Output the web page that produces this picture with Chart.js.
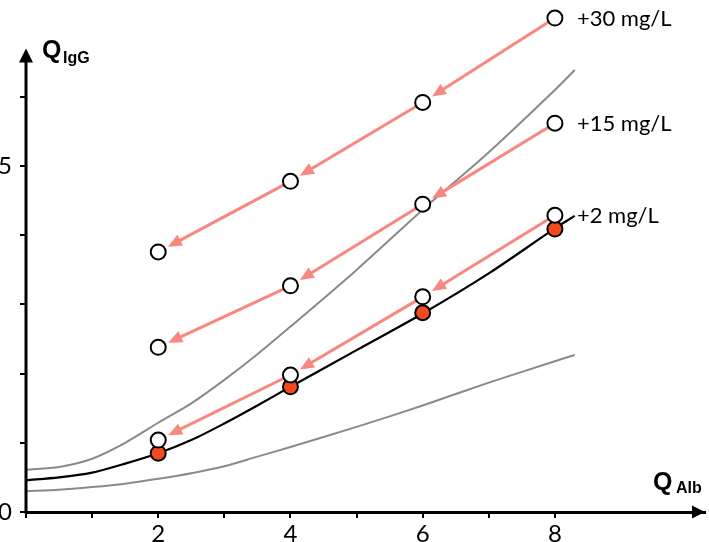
<!DOCTYPE html>
<html lang="en">
<head>
<meta charset="UTF-8">
<title>QIgG vs QAlb</title>
<script src="https://cdn.jsdelivr.net/npm/chart.js"></script>
<style>
  html, body { margin: 0; padding: 0; background: #fff; overflow: hidden; }
  #wrap { width: 709px; height: 542px; }
</style>
</head>
<body>
<div id="wrap"><canvas id="chart"></canvas></div>
<script>
// measured points (x = QAlb)
const doseX = [2, 4, 6, 8];
const plus30 = [3.76, 4.78, 5.92, 7.14];
const plus15 = [2.38, 3.27, 4.45, 5.62];
const plus2 = [1.04, 1.98, 3.11, 4.29];
const baseline = [0.85, 1.81, 2.88, 4.09];
const seriesLabels = ['+30 mg/L', '+15 mg/L', '+2 mg/L'];

// reference curves
const curveX = [0, 0.5, 1, 1.5, 2, 2.5, 3, 3.5, 4, 5, 6, 7, 8, 8.3];
const upperCurve = [0.61, 0.65, 0.77, 1.0, 1.29, 1.57, 1.91, 2.28, 2.68, 3.5, 4.37, 5.2, 6.1, 6.39];
const meanCurve = [0.46, 0.5, 0.57, 0.7, 0.85, 1.04, 1.28, 1.54, 1.81, 2.34, 2.87, 3.45, 4.1, 4.28];
const lowerCurve = [0.30, 0.32, 0.36, 0.41, 0.48, 0.56, 0.66, 0.8, 0.94, 1.23, 1.54, 1.87, 2.18, 2.27];

const xTicks = [0, 1, 2, 3, 4, 5, 6, 7, 8];
const yTicks = [0, 1, 2, 3, 4, 5, 6];
const xTickLabels = [2, 4, 6, 8];
const yTickLabels = [0, 5];
const yAxisEnd = 6.7;

const toPts = (xs, ys) => xs.map((x, i) => ({ x: x, y: ys[i] }));

const pink = '#f8877f';
const fontFam = 'Lato, "Open Sans", sans-serif';

function circles(ys) {
  return {
    data: toPts(doseX, ys),
    showLine: false,
    pointRadius: 7.5,
    pointBorderWidth: 2,
    pointBorderColor: '#000',
    pointBackgroundColor: '#fff',
    clip: false
  };
}

function curve(ys, color, width) {
  return {
    type: 'line',
    data: toPts(curveX, ys),
    borderColor: color,
    borderWidth: width,
    pointRadius: 0,
    tension: 0.3,
    fill: false,
    clip: false
  };
}

function arrow(ctx, x1, y1, x2, y2) {
  const len = Math.hypot(x2 - x1, y2 - y1);
  const dx = (x2 - x1) / len, dy = (y2 - y1) / len;
  const tx = x2 - dx * 11, ty = y2 - dy * 11;
  const headLen = 14, half = 6;
  const bx = tx - dx * headLen, by = ty - dy * headLen;
  ctx.beginPath();
  ctx.moveTo(x1, y1);
  ctx.lineTo(bx + dx * 2, by + dy * 2);
  ctx.stroke();
  ctx.beginPath();
  ctx.moveTo(tx, ty);
  ctx.lineTo(bx - dy * half, by + dx * half);
  ctx.lineTo(bx + dy * half, by - dx * half);
  ctx.closePath();
  ctx.fill();
}

const extras = {
  id: 'extras',
  beforeDatasetDraw(chart, args) {
    if (args.index !== 3) return;
    const { ctx, scales: { x, y } } = chart;
    ctx.save();
    ctx.strokeStyle = pink;
    ctx.fillStyle = pink;
    ctx.lineWidth = 3;
    [plus30, plus15, plus2].forEach(s => {
      for (let i = s.length - 1; i > 0; i--) {
        arrow(ctx,
          x.getPixelForValue(doseX[i]), y.getPixelForValue(s[i]),
          x.getPixelForValue(doseX[i - 1]), y.getPixelForValue(s[i - 1]));
      }
    });
    ctx.restore();
  },
  afterDraw(chart) {
    const { ctx, chartArea: a, scales: { x, y } } = chart;
    const top = y.getPixelForValue(yAxisEnd);
    ctx.save();
    // y axis line (stops below the top of the plot area)
    ctx.strokeStyle = '#000';
    ctx.lineWidth = 3;
    ctx.beginPath();
    ctx.moveTo(a.left, a.bottom + 1.5);
    ctx.lineTo(a.left, top + 10);
    ctx.stroke();
    // axis arrowheads
    ctx.fillStyle = '#000';
    ctx.beginPath();
    ctx.moveTo(a.right, a.bottom);
    ctx.lineTo(a.right - 13, a.bottom - 6.5);
    ctx.lineTo(a.right - 13, a.bottom + 6.5);
    ctx.closePath();
    ctx.fill();
    ctx.beginPath();
    ctx.moveTo(a.left, top);
    ctx.lineTo(a.left - 7, top + 14);
    ctx.lineTo(a.left + 7, top + 14);
    ctx.closePath();
    ctx.fill();

    // axis titles
    ctx.textBaseline = 'alphabetic';
    ctx.font = 'bold 25px "Liberation Sans", Arial, sans-serif';
    ctx.fillText('Q', a.left + 16, top + 9);
    ctx.fillText('Q', a.right - 52, a.bottom - 22);
    ctx.font = 'bold 16px "Liberation Sans", Arial, sans-serif';
    ctx.fillText('IgG', a.left + 37, top + 14);
    ctx.fillText('Alb', a.right - 29, a.bottom - 19);

    // series labels
    ctx.font = '22px ' + fontFam;
    ctx.textBaseline = 'middle';
    const last = doseX.length - 1;
    [plus30, plus15, plus2].forEach((s, i) => {
      ctx.fillText(seriesLabels[i],
        x.getPixelForValue(doseX[last]) + 22,
        y.getPixelForValue(s[last]) + 1);
    });
    ctx.restore();
  }
};

new Chart(document.getElementById('chart'), {
  type: 'scatter',
  data: {
    datasets: [
      circles(plus30),
      circles(plus15),
      circles(plus2),
      {
        data: toPts(doseX, baseline),
        showLine: false,
        pointRadius: 7.5,
        pointBorderWidth: 2,
        pointBorderColor: '#000',
        pointBackgroundColor: '#f24a1e',
        clip: false
      },
      curve(upperCurve, '#8a8a8a', 2),
      curve(meanCurve, '#000', 2.2),
      curve(lowerCurve, '#8a8a8a', 2)
    ]
  },
  plugins: [extras],
  options: {
    responsive: true,
    maintainAspectRatio: false,
    animation: false,
    layout: { autoPadding: false, padding: { top: 7, right: 4, left: 0, bottom: 0 } },
    plugins: { legend: { display: false }, tooltip: { enabled: false } },
    scales: {
      x: {
        type: 'linear',
        min: 0,
        max: 10.27,
        afterFit: s => { s.height = 30; s.paddingLeft = 0; s.paddingRight = 0; },
        afterBuildTicks: s => { s.ticks = xTicks.map(v => ({ value: v })); },
        ticks: {
          autoSkip: false,
          maxRotation: 0,
          padding: 2,
          color: '#000',
          font: { family: fontFam, size: 24 },
          callback: v => xTickLabels.includes(v) ? String(v) : ''
        },
        grid: { drawOnChartArea: false, tickLength: 6, color: '#000', lineWidth: 2 },
        border: { color: '#000', width: 3 }
      },
      y: {
        min: 0,
        max: 7.3,
        afterFit: s => { s.width = 26; s.paddingTop = 0; s.paddingBottom = 0; },
        afterBuildTicks: s => { s.ticks = yTicks.map(v => ({ value: v })); },
        ticks: {
          autoSkip: false,
          padding: 8,
          color: '#000',
          font: { family: fontFam, size: 24 },
          callback: v => yTickLabels.includes(v) ? String(v) : ''
        },
        grid: { drawOnChartArea: false, tickLength: 6, color: '#000', lineWidth: 2 },
        border: { display: false }
      }
    }
  }
});
</script>
</body>
</html>
